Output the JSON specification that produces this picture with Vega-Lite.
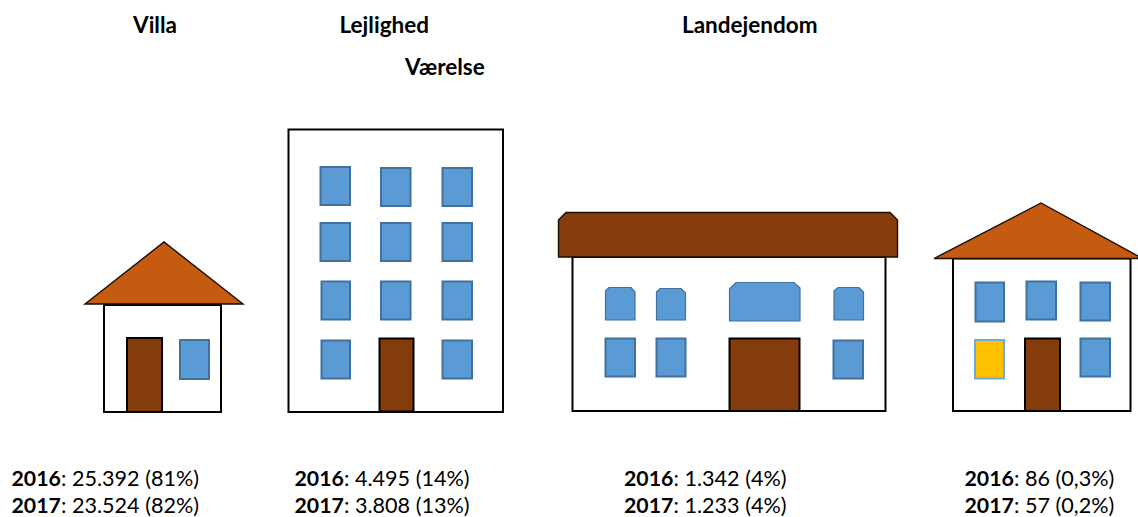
{"$schema":"https://vega.github.io/schema/vega-lite/v6.json","width":1138,"height":517,"autosize":"none","padding":0,"background":"white","config":{"view":{"stroke":null}},
"datasets":{
"rects":[
{"house":"Villa","part":"wall","a":104,"b":221,"c":305,"d":412},
{"house":"Villa","part":"door","a":127,"b":162,"c":338,"d":412},
{"house":"Villa","part":"window","a":180,"b":209,"c":340,"d":379},
{"house":"Lejlighed","part":"wall","a":288.5,"b":503,"c":129.5,"d":412},
{"house":"Lejlighed","part":"window","a":320.5,"b":350,"c":167,"d":205},
{"house":"Lejlighed","part":"window","a":381,"b":410.5,"c":168,"d":206},
{"house":"Lejlighed","part":"window","a":442.5,"b":472,"c":168,"d":206},
{"house":"Lejlighed","part":"window","a":320.5,"b":350,"c":223,"d":261},
{"house":"Lejlighed","part":"window","a":381,"b":410.5,"c":223,"d":261},
{"house":"Lejlighed","part":"window","a":442.5,"b":472,"c":223,"d":261},
{"house":"Lejlighed","part":"window","a":321.5,"b":350,"c":281.5,"d":319.5},
{"house":"Lejlighed","part":"window","a":381,"b":410.5,"c":281.5,"d":319.5},
{"house":"Lejlighed","part":"window","a":442.5,"b":472,"c":281.5,"d":319.5},
{"house":"Lejlighed","part":"window","a":321.5,"b":350,"c":340.5,"d":378.5},
{"house":"Lejlighed","part":"window","a":442.5,"b":472,"c":340.5,"d":378.5},
{"house":"Lejlighed","part":"door","a":379.5,"b":413.5,"c":338.5,"d":411.5},
{"house":"Landejendom","part":"wall","a":572.5,"b":885.5,"c":257,"d":411},
{"house":"Landejendom","part":"window","a":605.5,"b":635,"c":338.5,"d":376.5},
{"house":"Landejendom","part":"window","a":656.5,"b":685.5,"c":338.5,"d":376.5},
{"house":"Landejendom","part":"window","a":833.5,"b":863,"c":340.5,"d":378.5},
{"house":"Landejendom","part":"door","a":729.5,"b":799.5,"c":338.5,"d":411},
{"house":"Værelse","part":"wall","a":953,"b":1130.5,"c":258.5,"d":411},
{"house":"Værelse","part":"window","a":975.5,"b":1004,"c":282.5,"d":321.5},
{"house":"Værelse","part":"window","a":1026.5,"b":1056,"c":281.5,"d":319.5},
{"house":"Værelse","part":"window","a":1080.5,"b":1110,"c":282.5,"d":320.5},
{"house":"Værelse","part":"room","a":975,"b":1004,"c":340,"d":378.5},
{"house":"Værelse","part":"window","a":1080.5,"b":1110,"c":338.5,"d":376.5},
{"house":"Værelse","part":"door","a":1025,"b":1060,"c":338.5,"d":411}
],
"roofs":[
{"id":"r1","part":"roof","a":85,"c":304,"d":304},{"id":"r1","part":"roof","a":164,"c":242,"d":304},{"id":"r1","part":"roof","a":243,"c":304,"d":304},
{"id":"r3","part":"flatroof","a":558.5,"c":220,"d":257},{"id":"r3","part":"flatroof","a":566,"c":212.5,"d":257},{"id":"r3","part":"flatroof","a":890,"c":212.5,"d":257},{"id":"r3","part":"flatroof","a":897.5,"c":220,"d":257},
{"id":"r4","part":"roof","a":934,"c":258.5,"d":258.5},{"id":"r4","part":"roof","a":1041,"c":203,"d":258.5},{"id":"r4","part":"roof","a":1138,"c":256,"d":258.5}
],
"arched":[
{"id":"w1","part":"window","a":605.5,"c":291,"d":320},{"id":"w1","part":"window","a":609,"c":287.5,"d":320},{"id":"w1","part":"window","a":631,"c":287.5,"d":320},{"id":"w1","part":"window","a":635,"c":292,"d":320},
{"id":"w2","part":"window","a":656.5,"c":292,"d":320},{"id":"w2","part":"window","a":660,"c":288.5,"d":320},{"id":"w2","part":"window","a":681,"c":288.5,"d":320},{"id":"w2","part":"window","a":685.5,"c":293,"d":320},
{"id":"w3","part":"window","a":729.5,"c":289,"d":321},{"id":"w3","part":"window","a":736,"c":282.5,"d":321},{"id":"w3","part":"window","a":794,"c":282.5,"d":321},{"id":"w3","part":"window","a":800,"c":288,"d":321},
{"id":"w4","part":"window","a":834,"c":291,"d":320},{"id":"w4","part":"window","a":838,"c":287.5,"d":320},{"id":"w4","part":"window","a":859,"c":287.5,"d":320},{"id":"w4","part":"window","a":863.5,"c":292,"d":320}
],
"titles":[
{"t":"Villa","a":133,"c":33},{"t":"Lejlighed","a":339.5,"c":33},{"t":"Værelse","a":405,"c":75},{"t":"Landejendom","a":682,"c":33}
],
"stats":[
{"year":"2016","rest":": 25.392 (81%)","a":11.5,"r":61,"c":486},
{"year":"2017","rest":": 23.524 (82%)","a":11.5,"r":61,"c":512.5},
{"year":"2016","rest":": 4.495 (14%)","a":294.5,"r":344,"c":486},
{"year":"2017","rest":": 3.808 (13%)","a":294.5,"r":344,"c":512.5},
{"year":"2016","rest":": 1.342 (4%)","a":624,"r":673.5,"c":486},
{"year":"2017","rest":": 1.233 (4%)","a":624,"r":673.5,"c":512.5},
{"year":"2016","rest":": 86 (0,3%)","a":964.5,"r":1014,"c":486},
{"year":"2017","rest":": 57 (0,2%)","a":964.5,"r":1014,"c":512.5}
]},
"layer":[
{"data":{"name":"rects"},"mark":{"type":"rect","strokeWidth":2},"encoding":{
"x":{"field":"a","type":"quantitative","scale":{"domain":[0,1138],"nice":false,"zero":false},"axis":null},"x2":{"field":"b"},
"y":{"field":"c","type":"quantitative","scale":{"domain":[517,0],"nice":false,"zero":false},"axis":null},"y2":{"field":"d"},
"fill":{"field":"part","type":"nominal","legend":null,"scale":{"domain":["wall","door","window","room","roof","flatroof"],"range":["#ffffff","#843c0c","#5b9bd5","#ffc000","#c55a11","#843c0c"]}},
"stroke":{"field":"part","type":"nominal","legend":null,"scale":{"domain":["wall","door","window","room","roof","flatroof"],"range":["#000000","#000000","#41719c","#6fa8dc","#1a0d00","#1a0d00"]}}}},
{"data":{"name":"arched"},"mark":{"type":"area","strokeWidth":1.2},"encoding":{
"x":{"field":"a","type":"quantitative","axis":null},"y":{"field":"c","type":"quantitative","axis":null},"y2":{"field":"d"},"detail":{"field":"id"},
"fill":{"field":"part","type":"nominal","legend":null},"stroke":{"field":"part","type":"nominal","legend":null}}},
{"data":{"name":"roofs"},"mark":{"type":"area","strokeWidth":1.4},"encoding":{
"x":{"field":"a","type":"quantitative","axis":null},"y":{"field":"c","type":"quantitative","axis":null},"y2":{"field":"d"},"detail":{"field":"id"},
"fill":{"field":"part","type":"nominal","legend":null},"stroke":{"field":"part","type":"nominal","legend":null}}},
{"data":{"name":"titles"},"mark":{"type":"text","align":"left","baseline":"alphabetic","font":"Lato","fontWeight":"bold","fontSize":22.5,"color":"#000000"},"encoding":{
"x":{"field":"a","type":"quantitative","axis":null},"y":{"field":"c","type":"quantitative","axis":null},"text":{"field":"t"}}},
{"data":{"name":"stats"},"mark":{"type":"text","align":"left","baseline":"alphabetic","font":"Lato","fontWeight":"bold","fontSize":21.3,"color":"#000000"},"encoding":{
"x":{"field":"a","type":"quantitative","axis":null},"y":{"field":"c","type":"quantitative","axis":null},"text":{"field":"year"}}},
{"data":{"name":"stats"},"mark":{"type":"text","align":"left","baseline":"alphabetic","font":"Lato","fontSize":21.6,"color":"#000000"},"encoding":{
"x":{"field":"r","type":"quantitative","axis":null},"y":{"field":"c","type":"quantitative","axis":null},"text":{"field":"rest"}}}
]}
